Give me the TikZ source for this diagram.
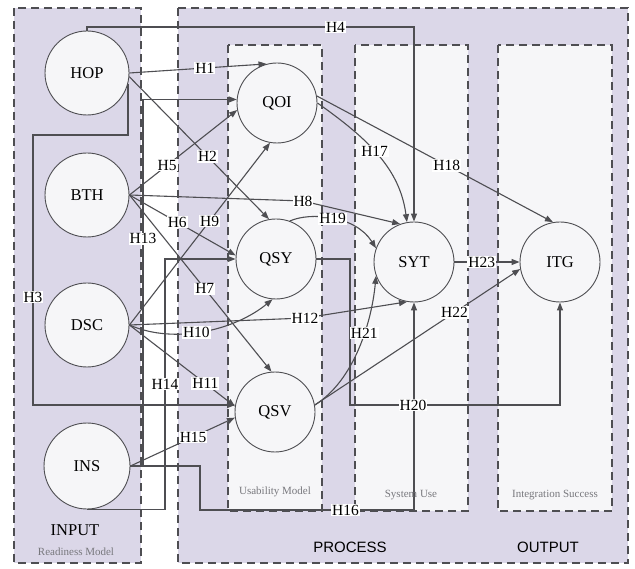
\documentclass[tikz,border=0pt]{standalone}
\usepackage{fontspec}
\setmainfont{Liberation Serif}
\newfontfamily\labelsans{Liberation Sans}
\usetikzlibrary{arrows.meta}

\definecolor{lav}{RGB}{219,215,232}
\definecolor{pale}{RGB}{246,246,248}
\definecolor{ink}{RGB}{78,78,82}
\definecolor{capgray}{RGB}{120,120,125}

\begin{document}
\begin{tikzpicture}[x=1pt, y=-1pt, every node/.style={font=\fontsize{15.5}{17}\selectfont},
  construct/.style={circle, draw=ink, fill=pale, minimum size=82pt, inner sep=0pt, line width=0.9pt, font=\fontsize{16.5}{18}\selectfont},
  hyp/.style={fill=white, inner sep=1pt},
  link/.style={draw=ink, line width=1.1pt, -{Triangle[length=8pt,width=6pt]}},
  frame/.style={draw=ink, dash pattern=on 8pt off 5pt, line width=1.2pt},
  caption/.style={text=capgray, font=\fontsize{11}{12}\selectfont}]

\useasboundingbox (0,0) rectangle (635,569);

% FRAMES
\draw[frame, fill=lav]  (14,8) rectangle (141,563);
\draw[frame, fill=lav]  (178,8) rectangle (628,563);
\draw[frame, fill=pale] (228,45) rectangle (322,511);
\draw[frame, fill=pale] (355,45) rectangle (468,511);
\draw[frame, fill=pale] (498,45) rectangle (612,511);

% INPUT (readiness)
\node[construct, minimum size=84pt] (hop) at (87,73)  {HOP};
\node[construct, minimum size=84pt] (bth) at (87,195) {BTH};
\node[construct, minimum size=84pt] (dsc) at (87,325) {DSC};
\node[construct, minimum size=86pt] (ins) at (87,466) {INS};

% PROCESS / OUTPUT
\node[construct, minimum size=80pt] (qoi) at (277,103) {QOI};
\node[construct, minimum size=80pt] (qsy) at (276,259) {QSY};
\node[construct, minimum size=80pt] (qsv) at (275,412) {QSV};
\node[construct, minimum size=80pt] (syt) at (414,262) {SYT};
\node[construct, minimum size=80pt] (itg) at (560,262) {ITG};

% HOP
\draw[link] (hop.east) -- node[hyp, pos=0.55] {H1} (qoi.105);
\draw[link] (hop.-5) -- node[hyp, pos=0.56] {H2} (qsy.100);
\draw[link] (hop.-15) |- (33,135) |- node[hyp, pos=0.3] {H3} (qsv.170);
\draw[link] (hop.north) |- (87,27) -| node[hyp, pos=0.38] {H4} (syt.north);

% BTH
\draw[link] (bth.east) -- node[hyp, pos=0.35] {H5} (qoi.190);
\draw[link] (bth.east) -- node[hyp, pos=0.45] {H6} (qsy.175);
\draw[link] (bth.east) -- node[hyp, pos=0.53] {H7} (qsv.95);
\draw[link] (bth.east) -- (303,201) node[hyp] {H8} -- (syt.110);

% DSC
\draw[link] (dsc.east) -- node[hyp, pos=0.57] {H9} (qoi.260);
\draw[link] (dsc.east) .. controls (175,345) and (235,330) .. node[hyp, pos=0.45] {H10} (qsy.265);
\draw[link] (dsc.east) -- node[hyp, pos=0.72] {H11} (qsv.172);
\draw[link] (dsc.east) -- (305,318) node[hyp] {H12} -- (syt.-100);

% INS
\draw[link] (ins.east) -- (143,466) |- node[hyp, pos=0.31] {H13} (qoi.175);
\draw[link] (ins.south) -| node[hyp, pos=0.75] {H14} (165,259) -- (qsy.west);
\draw[link] (ins.east) -- node[hyp, pos=0.6] {H15} (qsv.188);
\draw[link] (ins.east) -| (200,510) -| node[hyp, pos=0.34] {H16} (syt.south);

% usability -> use / success
\draw[link] (qoi.east) .. controls (370,140) and (400,170) .. node[hyp, pos=0.45] {H17} (syt.100);
\draw[link] (qoi.10) -- node[hyp, pos=0.55] {H18} (itg.100);
\draw[link] (qsy.70) .. controls (310,212) and (355,215) .. node[hyp, pos=0.5] {H19} (syt.160);
\draw[link] (qsy.east) -| (350,405) -| node[hyp, pos=0.15] {H20} (itg.south);
\draw[link] (qsv.10) .. controls (355,380) and (372,320) .. node[hyp, pos=0.6] {H21} (syt.-160);
\draw[link] (qsv.10) -- node[hyp, pos=0.68] {H22} (itg.190);
\draw[link] (syt.east) -- node[hyp, pos=0.42] {H23} (itg.west);

% CAPTIONS
\node (inputlbl) at (75,530) {\fontsize{16.5}{18}\selectfont INPUT};
\node[caption] (readylbl) at (76,552) {Readiness Model};
\node[caption] (usablbl) at (275,492) {Usability Model};
\node[caption] (uselbl) at (411,495) {System Use};
\node[caption] (succlbl) at (555,495) {Integration Success};
\node (proclbl) at (350,547) {\labelsans\fontsize{15}{17}\selectfont PROCESS};
\node (outlbl) at (548,547) {\labelsans\fontsize{15}{17}\selectfont OUTPUT};

\end{tikzpicture}
\end{document}
